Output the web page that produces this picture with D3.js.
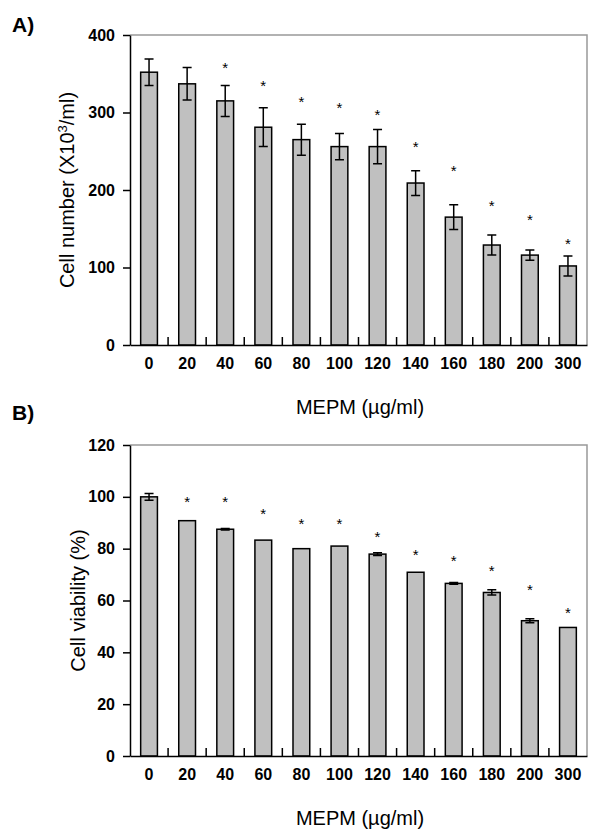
<!DOCTYPE html>
<html>
<head>
<meta charset="utf-8">
<title>MEPM cell number and viability</title>
<style>
  body { margin: 0; background: #fff; }
  svg text { font-family: "Liberation Sans", Arial, sans-serif; }
  .tick text { font-weight: bold; font-size: 16px; fill: #000; }
  .bar { fill: #c0c0c0; stroke: #000; stroke-width: 1.5px; }
  .err { stroke: #000; stroke-width: 1.5px; fill: none; }
  .frame { stroke: #999; stroke-width: 1.5px; fill: none; }
</style>
</head>
<body>
<script src="https://d3js.org/d3.v7.min.js"></script>
<script>

var width = 591, height = 829;

// concentrations (ug/ml)
var doses = ["0", "20", "40", "60", "80", "100", "120", "140", "160", "180", "200", "300"];

// A) cell number (x10^3/ml)
var cellNumber = [352, 337, 315, 281, 265, 256, 256, 209, 165, 129, 116, 102];
var cellNumberErr = [17, 21, 20, 25, 20, 17, 22, 16, 16, 13, 6.5, 13];
var cellNumberStar = [null, null, 361, 338, 317, 310, 301, 259, 228, 183, 165, 134];
var cellNumberTicks = [0, 100, 200, 300, 400];

// B) cell viability (%)
var viability = [100, 90.8, 87.5, 83.3, 80, 81, 77.9, 70.9, 66.6, 63.1, 52.2, 49.6];
var viabilityErr = [1.3, 0, 0.3, 0, 0, 0, 0.5, 0, 0.3, 1, 0.8, 0];
var viabilityStar = [null, 99.2, 99.2, 94.7, 90.7, 90.7, 85.7, 78.6, 76.3, 72.7, 65.1, 56.4];
var viabilityTicks = [0, 20, 40, 60, 80, 100, 120];

var svg = d3.select("body").append("svg")
    .attr("width", width)
    .attr("height", height);

function drawPanel(o) {
	var x = d3.scaleBand()
		.domain(doses)
		.range([130, 587])
		.paddingInner(0.56)
		.paddingOuter(0.28);
	var y = d3.scaleLinear()
		.domain([0, o.ticks[o.ticks.length - 1]])
		.range([o.bottom, o.top]);

	var g = svg.append("g");

	// grey top/right frame
	g.append("path")
		.attr("class", "frame")
		.attr("d", "M130," + o.top + "H587V" + o.bottom);

	// bars
	g.selectAll(".bar")
		.data(o.values)
	  .enter().append("rect")
		.attr("class", "bar")
		.attr("x", function(d, i) { return x(doses[i]); })
		.attr("y", function(d) { return y(d); })
		.attr("width", x.bandwidth())
		.attr("height", function(d) { return y(0) - y(d); });

	// error bars
	var cap = 4.5;
	o.values.forEach(function(v, i) {
		var e = o.err[i];
		if (!e) return;
		var cx = x(doses[i]) + x.bandwidth() / 2;
		g.append("path")
			.attr("class", "err")
			.attr("d", "M" + cx + "," + y(v - e) + "V" + y(v + e) +
				"M" + (cx - cap) + "," + y(v + e) + "H" + (cx + cap) +
				"M" + (cx - cap) + "," + y(v - e) + "H" + (cx + cap));
	});

	// significance stars
	o.stars.forEach(function(s, i) {
		if (s == null) return;
		g.append("text")
			.attr("x", x(doses[i]) + x.bandwidth() / 2)
			.attr("y", y(s) + 8)
			.attr("text-anchor", "middle")
			.style("font-size", "15px")
			.text("*");
	});

	// y axis
	g.append("g")
		.attr("transform", "translate(130,0)")
		.call(d3.axisLeft(y).tickValues(o.ticks).tickSize(7).tickSizeOuter(0).tickPadding(8))
		.call(function(a) { a.selectAll("path, line").attr("stroke", "#000").attr("stroke-width", 1.5); })
		.selectAll("text").attr("font-family", null);

	// x axis
	g.append("g")
		.attr("transform", "translate(0," + o.bottom + ")")
		.call(d3.axisBottom(x).tickSize(0).tickSizeOuter(0).tickPadding(13))
		.call(function(a) { a.select(".domain").attr("stroke", "#000").attr("stroke-width", 1.5); })
		.selectAll("text").attr("font-family", null);

	// separators between categories
	var step = x.step();
	g.selectAll(".sep")
		.data(doses.slice(1))
	  .enter().append("line")
		.attr("x1", function(d) { return x(d) - step * 0.28; })
		.attr("x2", function(d) { return x(d) - step * 0.28; })
		.attr("y1", o.bottom)
		.attr("y2", o.bottom - 8)
		.attr("stroke", "#000")
		.attr("stroke-width", 1.5);

	// axis titles
	g.append("text")
		.attr("transform", "translate(" + o.ylabX + "," + (o.top + o.bottom) / 2 + ") rotate(-90)")
		.attr("text-anchor", "middle")
		.style("font-size", "20px")
		.call(o.ylabel);

	g.append("text")
		.attr("x", 360)
		.attr("y", o.bottom + 69)
		.attr("text-anchor", "middle")
		.style("font-size", "20px")
		.text("MEPM (\u00b5g/ml)");

	g.append("text")
		.attr("x", 12)
		.attr("y", o.labelY)
		.style("font-size", "21px")
		.style("font-weight", "bold")
		.text(o.panel);
}

drawPanel({
	panel: "A)", labelY: 32,
	top: 35, bottom: 345,
	values: cellNumber, err: cellNumberErr, stars: cellNumberStar,
	ticks: cellNumberTicks, ylabX: 74,
	ylabel: function(t) {
		t.append("tspan").text("Cell number (X10");
		t.append("tspan").attr("dy", -7).style("font-size", "13px").text("3");
		t.append("tspan").attr("dy", 7).text("/ml)");
	}
});

drawPanel({
	panel: "B)", labelY: 420,
	top: 445, bottom: 756,
	values: viability, err: viabilityErr, stars: viabilityStar,
	ticks: viabilityTicks, ylabX: 85,
	ylabel: function(t) { t.text("Cell viability (%)"); }
});

</script>
</body>
</html>
